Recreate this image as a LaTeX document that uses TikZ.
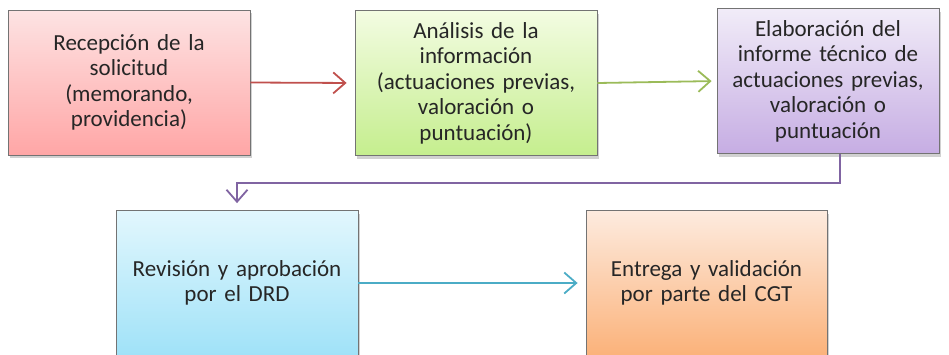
\documentclass[tikz,border=0pt]{standalone}
\usepackage{fontspec}
\setmainfont{Carlito}
\usetikzlibrary{arrows.meta,shadows,positioning}

\definecolor{rojoA}{HTML}{FDE3E3}\definecolor{rojoB}{HTML}{FFA6A6}\definecolor{rojoL}{HTML}{C0504D}
\definecolor{verdeA}{HTML}{F3FCE2}\definecolor{verdeB}{HTML}{C5EE8E}\definecolor{verdeL}{HTML}{9BBB59}
\definecolor{moradoA}{HTML}{F1ECF8}\definecolor{moradoB}{HTML}{C6ADE3}\definecolor{moradoL}{HTML}{8064A2}
\definecolor{azulA}{HTML}{E2F7FD}\definecolor{azulB}{HTML}{A0E2F8}\definecolor{azulL}{HTML}{4BACC6}
\definecolor{naranjaA}{HTML}{FDEBDF}\definecolor{naranjaB}{HTML}{FBB27A}

\tikzset{
  paso/.style={draw=black!55, line width=0.8pt, minimum width=242pt, minimum height=145pt,
    text width=236pt, align=center, inner sep=0pt, text=black!85,
    font=\fontsize{23}{25.5}\selectfont,
    drop shadow={shadow xshift=2pt, shadow yshift=-3pt, opacity=0.3, fill=black!60}},
  flecha/.style={line width=1.8pt, -{Straight Barb[length=12pt,width=21pt]}},
}

\begin{document}
\begin{tikzpicture}[x=1pt,y=-1pt]
  \useasboundingbox (0,0) rectangle (949,354);

  \node[paso, top color=rojoA, bottom color=rojoB] (recepcion) at (129,82.5)
    {Recepción de la\\solicitud\\(memorando,\\providencia)};           % paso 1
  \node[paso, top color=verdeA, bottom color=verdeB] (analisis) at (476,83)
    {Análisis de la\\información\\(actuaciones previas,\\valoración o\\puntuación)}; % paso 2
  \node[paso, minimum width=222pt, text width=218pt, top color=moradoA, bottom color=moradoB] (informe) at (828,81)
    {Elaboración del\\informe técnico de\\actuaciones previas,\\valoración o\\puntuación}; % paso 3
  \node[paso, top color=azulA, bottom color=azulB] (revision) at (237,283)
    {Revisión y aprobación\\por el DRD};                               % paso 4
  \node[paso, minimum width=241pt, top color=naranjaA, bottom color=naranjaB] (entrega) at (706.5,283)
    {Entrega y validación\\por parte del CGT};                         % paso 5

  \draw[flecha, rojoL, shorten >=8pt] (recepcion.east) -- (analisis.west);
  \draw[flecha, verdeL, shorten >=5pt] (analisis.east) -- (informe.west);
  \draw[flecha, moradoL, shorten >=7pt] ([xshift=12pt]informe.south) -- ++(0,29) -| (revision.north);
  \draw[flecha, azulL, shorten >=8pt] (revision.east) -- (entrega.west);
\end{tikzpicture}
\end{document}
